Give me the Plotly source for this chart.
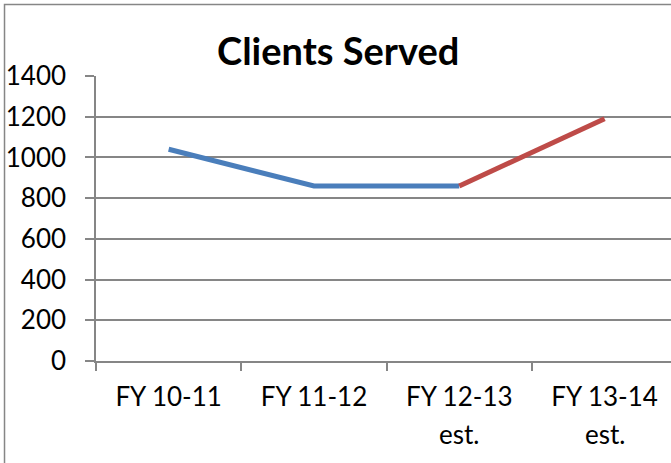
import plotly.graph_objects as go

categories = ["FY 10-11", "FY 11-12", "FY 12-13 est.", "FY 13-14 est."]
tick_line1 = ["FY 10-11", "FY 11-12", "FY 12-13", "FY 13-14"]
tick_line2 = ["", "", "est.", "est."]
actual_values = [1040, 860, 860, None]
estimate_values = [None, None, 860, 1190]
y_ticks = [0, 200, 400, 600, 800, 1000, 1200, 1400]
title_text = "Clients Served"

GRAY = "#868686"
FONT = "Lato"

fig = go.Figure()
fig.add_trace(go.Scatter(x=categories, y=actual_values, mode="lines",
                         line=dict(color="#4A7EBB", width=5), hoverinfo="skip"))
fig.add_trace(go.Scatter(x=categories, y=estimate_values, mode="lines",
                         line=dict(color="#BE4B48", width=5), hoverinfo="skip"))

annotations = [dict(text="<b>" + title_text + "</b>", xref="paper", yref="paper",
                    x=0.4209, y=1.091, xanchor="center", yanchor="middle",
                    showarrow=False, font=dict(family=FONT, size=38, color="black"))]
for cat, t2 in zip(categories, tick_line2):
    if t2:
        annotations.append(dict(text=t2, xref="x", yref="paper", x=cat, y=-0.256,
                                xanchor="center", yanchor="middle", showarrow=False,
                                font=dict(family=FONT, size=26, color="black")))

fig.update_layout(
    width=671, height=463,
    margin=dict(l=96, r=0, t=76, b=102, pad=0, autoexpand=False),
    paper_bgcolor="white", plot_bgcolor="white",
    showlegend=False,
    font=dict(family=FONT, size=26, color="black"),
    xaxis=dict(type="category", categoryorder="array", categoryarray=categories,
               tickvals=categories, ticktext=tick_line1,
               range=[-0.5, 3.457], tickson="boundaries", automargin=False,
               ticks="outside", ticklen=8, tickwidth=1.5, tickcolor=GRAY,
               ticklabelstandoff=12,
               showline=True, linecolor=GRAY, linewidth=1.5,
               showgrid=False, zeroline=False, fixedrange=True),
    yaxis=dict(range=[0, 1400], tickvals=y_ticks, automargin=False,
               ticks="outside", ticklen=9, tickwidth=1.5, tickcolor=GRAY,
               ticklabelstandoff=14,
               showline=True, linecolor=GRAY, linewidth=1.5,
               showgrid=True, gridcolor=GRAY, gridwidth=1.5,
               zeroline=False, fixedrange=True),
    annotations=annotations,
    shapes=[dict(type="rect", xref="paper", yref="paper",
                 x0=-0.1591, y0=-0.6, x1=1.3, y1=1.2509,
                 line=dict(color=GRAY, width=1.5), fillcolor="rgba(0,0,0,0)", layer="below")],
)

fig.write_html("out.html", config={"displayModeBar": False},
               post_script="document.body.style.margin='0';document.body.style.overflow='hidden';")
